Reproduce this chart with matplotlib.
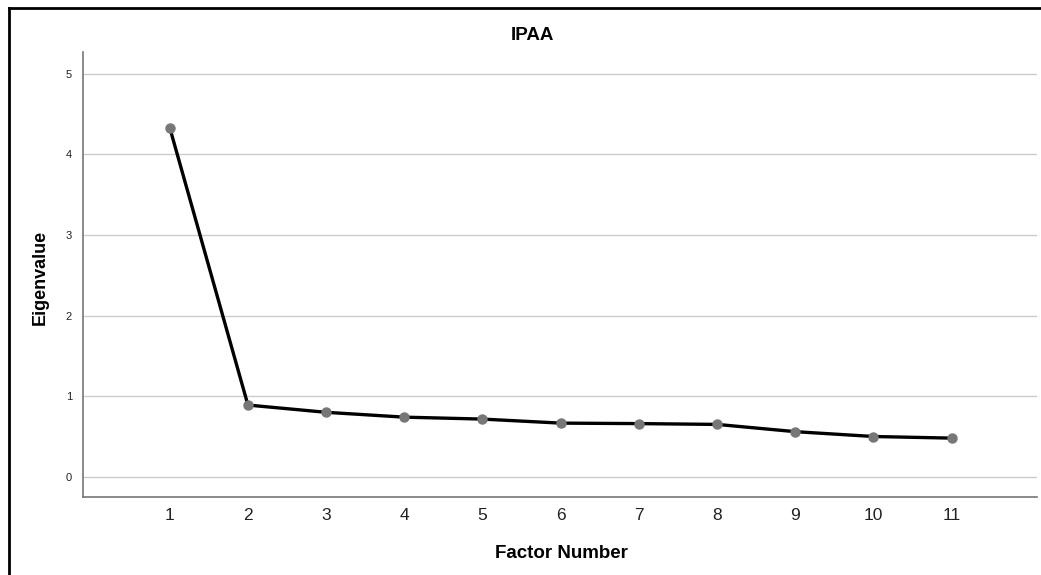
import matplotlib
matplotlib.use("Agg")
import matplotlib.pyplot as plt
from matplotlib.lines import Line2D

plt.rcParams['font.family'] = ['Liberation Sans', 'DejaVu Sans']

factors = [1, 2, 3, 4, 5, 6, 7, 8, 9, 10, 11]
eigenvalues = [4.33, 0.89, 0.80, 0.74, 0.716, 0.666, 0.66, 0.65, 0.56, 0.50, 0.48]
y_ticks = [0, 1, 2, 3, 4, 5]

fig = plt.figure(figsize=(10.41, 5.75), dpi=100)
ax = fig.add_axes([0.0797, 0.1357, 0.9163, 0.774])

ax.plot(factors, eigenvalues, color='black', linewidth=2.4, zorder=3)
ax.plot(factors, eigenvalues, linestyle='none', marker='o', markersize=6.5,
        markerfacecolor='#777777', markeredgecolor='#777777', zorder=4)

ax.set_xlim(-0.11, 12.09)
ax.set_ylim(-0.25, 5.27)
ax.set_xticks(factors)
ax.set_yticks(y_ticks)
ax.tick_params(axis='x', length=0, labelsize=12.5, pad=8, colors='#222222')
ax.tick_params(axis='y', length=0, labelsize=8, pad=8, colors='#222222')

ax.grid(axis='y', color='#cccccc', linewidth=1)
ax.set_axisbelow(True)
for s in ['top', 'right']:
    ax.spines[s].set_visible(False)
for s in ['left', 'bottom']:
    ax.spines[s].set_color('#777777')
    ax.spines[s].set_linewidth(1.2)

fig.text(532 / 1041, 1 - 35 / 575, 'IPAA', ha='center', va='center',
         fontsize=13.5, fontweight='bold')
fig.text(561 / 1041, 1 - 553 / 575, 'Factor Number', ha='center', va='center',
         fontsize=13.5, fontweight='bold')
fig.text(40 / 1041, 1 - 277 / 575, 'Eigenvalue', ha='center', va='center',
         rotation=90, fontsize=13, fontweight='bold')

# outer frame (left and top edges visible)
fig.add_artist(Line2D([9 / 1041, 9 / 1041], [0, 1 - 8 / 575],
                      transform=fig.transFigure, color='black', linewidth=2))
fig.add_artist(Line2D([9 / 1041, 1], [1 - 8 / 575, 1 - 8 / 575],
                      transform=fig.transFigure, color='black', linewidth=2))

fig.savefig('out.png', dpi=100)
